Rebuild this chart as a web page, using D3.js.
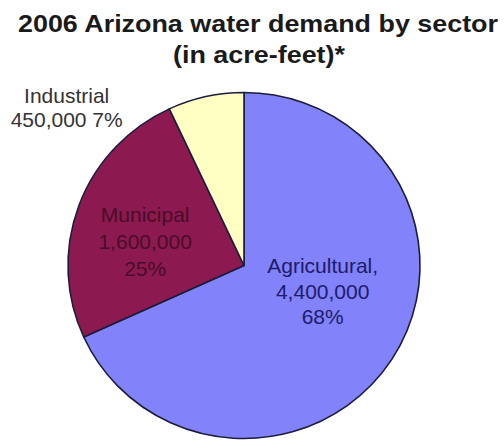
<!DOCTYPE html>
<html>
<head>
<meta charset="utf-8">
<script src="https://cdn.jsdelivr.net/npm/d3@7"></script>
<style>
	body { margin: 0; background: #ffffff; }
	text { font-family: "Liberation Sans", Arial, sans-serif; }
</style>
</head>
<body>
<div id="chart"></div>
<script>
// ******************data**********************
const sectors = ["Agricultural", "Municipal", "Industrial"]
const demand = [4400000, 1600000, 450000]
const titleLines = ["2006 Arizona water demand by sector", "(in acre-feet)*"]

// ******************layout**********************
const width = 504
const height = 441
const cx = 244
const cy = 265.5
const rx = 176
const ry = 173

const colors = ["#8282fa", "#8c1a50", "#ffffc4"]
const textColors = ["#1c1c6a", "#4a0c28", "#333333"]

// label placement: radius along slice middle + nudge
const labelLayout = [
	{ r: 90, dx: 3, dy: -40, sep: ",", lh: 25.5 },
	{ r: 100, dx: -5, dy: -10, sep: "", lh: 27 },
	{ r: 190, dx: -136, dy: 20, sep: "", lh: 24 }
]

const total = d3.sum(demand)
const fmtNum = d3.format(",")
const pct = (v) => Math.round(v / total * 100) + "%"

const svg = d3.select("#chart")
	.append("svg")
	.attr("width", width)
	.attr("height", height)
	.style("background-color", "#ffffff")

// ******************title**********************
svg.append("text")
	.attr("x", 258)
	.attr("y", 32)
	.attr("text-anchor", "middle")
	.attr("textLength", 480)
	.attr("lengthAdjust", "spacingAndGlyphs")
	.style("font-size", "24px")
	.style("font-weight", "bold")
	.attr("fill", "#1a1a1a")
	.text(titleLines[0])

svg.append("text")
	.attr("x", 259)
	.attr("y", 63)
	.attr("text-anchor", "middle")
	.attr("textLength", 172)
	.attr("lengthAdjust", "spacingAndGlyphs")
	.style("font-size", "24px")
	.style("font-weight", "bold")
	.attr("fill", "#1a1a1a")
	.text(titleLines[1])

// ******************pie**********************
const pie = d3.pie().sort(null).value((d) => d)
const arcs = pie(demand)

const arc = d3.arc().innerRadius(0).outerRadius(rx)

const g = svg.append("g")
	.attr("transform", "translate(" + cx + "," + cy + ") scale(1," + (ry / rx) + ")")

g.selectAll("path")
	.data(arcs)
	.enter()
	.append("path")
	.attr("d", arc)
	.attr("fill", (d, i) => colors[i])
	.attr("stroke", "#1c1c3c")
	.attr("stroke-width", 1.6)
	.attr("stroke-linejoin", "round")

// ******************labels**********************
arcs.forEach((d, i) => {
	const L = labelLayout[i]
	const c = d3.arc().innerRadius(L.r).outerRadius(L.r).centroid(d)
	const x = cx + c[0] + L.dx
	const y = cy + c[1] * ry / rx + L.dy
	let lines
	if (i == 2) {
		lines = [sectors[i], fmtNum(demand[i]) + " " + pct(demand[i])]
	} else {
		lines = [sectors[i] + L.sep, fmtNum(demand[i]), pct(demand[i])]
	}
	const t = svg.append("text")
		.attr("text-anchor", "middle")
		.style("font-size", "21px")
		.attr("fill", textColors[i])
	lines.forEach((s, j) => {
		t.append("tspan")
			.attr("x", x)
			.attr("y", y + j * L.lh)
			.text(s)
	})
})
</script>
</body>
</html>
